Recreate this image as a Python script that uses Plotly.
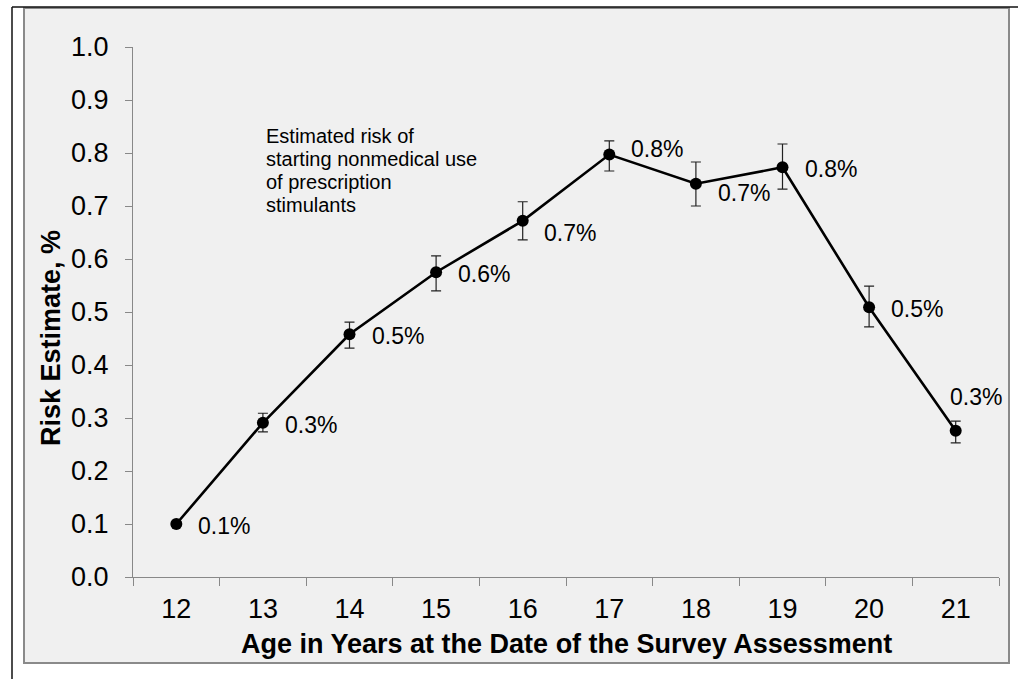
import plotly.graph_objects as go

# Age at survey assessment (years) and estimated risk of starting nonmedical use (%)
ages = ["12", "13", "14", "15", "16", "17", "18", "19", "20", "21"]
risk = [0.100, 0.291, 0.458, 0.575, 0.672, 0.797, 0.742, 0.773, 0.509, 0.276]
ci_low = [0.096, 0.274, 0.432, 0.540, 0.636, 0.766, 0.700, 0.732, 0.472, 0.253]
ci_high = [0.104, 0.309, 0.481, 0.606, 0.708, 0.823, 0.783, 0.817, 0.549, 0.294]

y_ticks = [0.0, 0.1, 0.2, 0.3, 0.4, 0.5, 0.6, 0.7, 0.8, 0.9, 1.0]
note_lines = ["Estimated risk of", "starting nonmedical use", "of prescription", "stimulants"]
x_title = "Age in Years at the Date of the Survey Assessment"
y_title = "Risk Estimate, %"

FONT = "Liberation Sans, Arial, Helvetica, sans-serif"
W, H = 1018, 679
L, R, T, B = 133, 19, 47, 102
PW, PH = W - L - R, H - T - B


def px(x):
    """Pixel column -> paper x."""
    return (x - L) / PW


def py(y):
    """Pixel row -> paper y."""
    return (H - B - y) / PH


fig = go.Figure()

fig.add_trace(go.Scatter(
    x=ages,
    y=risk,
    mode="lines+markers",
    line=dict(color="#000000", width=2.6),
    marker=dict(color="#000000", size=12),
    error_y=dict(
        type="data",
        array=[h - v for h, v in zip(ci_high, risk)],
        arrayminus=[v - l for v, l in zip(risk, ci_low)],
        color="#222222",
        thickness=1.2,
        width=5,
    ),
    showlegend=False,
    hoverinfo="x+y",
))

# value labels beside each point (pixel offsets right / down);
# category positions are given by index so numeric-looking names are not misread
label_shift = {"16": (19, 12), "17": (20, -6), "18": (20, 9), "21": (-8, -34)}
annotations = []
for i, (a, v) in enumerate(zip(ages, risk)):
    dx, dy = label_shift.get(a, (20, 2))
    annotations.append(dict(
        x=i, y=v, xref="x", yref="y",
        text=f"{v:.1f}%", showarrow=False,
        xanchor="left", yanchor="middle",
        xshift=dx, yshift=-dy,
        font=dict(family=FONT, size=23, color="#000000"),
    ))

# explanatory note, one annotation per line
for i, line in enumerate(note_lines):
    annotations.append(dict(
        x=px(264), y=py(136 + 23 * i), xref="paper", yref="paper",
        text=line, showarrow=False, xanchor="left", yanchor="middle",
        font=dict(family=FONT, size=20, color="#000000"),
    ))

# axis titles
annotations.append(dict(
    x=0.5, y=py(644), xref="paper", yref="paper",
    text=f"<b>{x_title}</b>", showarrow=False,
    xanchor="center", yanchor="middle",
    font=dict(family=FONT, size=27, color="#000000"),
))
annotations.append(dict(
    x=px(51), y=py(338), xref="paper", yref="paper",
    text=f"<b>{y_title}</b>", showarrow=False, textangle=-90,
    xanchor="center", yanchor="middle",
    font=dict(family=FONT, size=27, color="#000000"),
))

shapes = [
    # grey chart panel
    dict(type="rect", xref="paper", yref="paper", layer="below",
         x0=px(24), x1=px(1009), y0=py(663), y1=py(8),
         fillcolor="#f0f0f0", line=dict(color="#8a8a8a", width=2)),
    # outer black frame (left and top edges)
    dict(type="line", xref="paper", yref="paper", layer="below",
         x0=px(12), x1=px(12), y0=py(7), y1=py(H + 2),
         line=dict(color="#111111", width=1.5)),
    dict(type="line", xref="paper", yref="paper", layer="below",
         x0=px(12), x1=px(W + 2), y0=py(7), y1=py(7),
         line=dict(color="#111111", width=1.5)),
]

fig.update_layout(
    width=W, height=H,
    margin=dict(l=L, r=R, t=T, b=B, pad=0),
    paper_bgcolor="#ffffff",
    plot_bgcolor="rgba(0,0,0,0)",
    font=dict(family=FONT, color="#000000"),
    annotations=annotations,
    shapes=shapes,
    xaxis=dict(
        type="category",
        range=[-0.5, len(ages) - 0.5],
        tickson="boundaries",
        ticks="outside", ticklen=8, tickwidth=1.3, tickcolor="#888888",
        showline=True, linecolor="#888888", linewidth=1.3,
        showgrid=False, zeroline=False,
        tickfont=dict(family=FONT, size=27, color="#000000"),
        ticklabelstandoff=7,
    ),
    yaxis=dict(
        range=[0, 1],
        tickvals=y_ticks,
        tickformat=".1f",
        ticks="outside", ticklen=7, tickwidth=1.3, tickcolor="#888888",
        showline=True, linecolor="#888888", linewidth=1.3,
        showgrid=False, zeroline=False,
        tickfont=dict(family=FONT, size=27, color="#000000"),
        ticklabelstandoff=11,
    ),
)

fig.write_html("out.html")
